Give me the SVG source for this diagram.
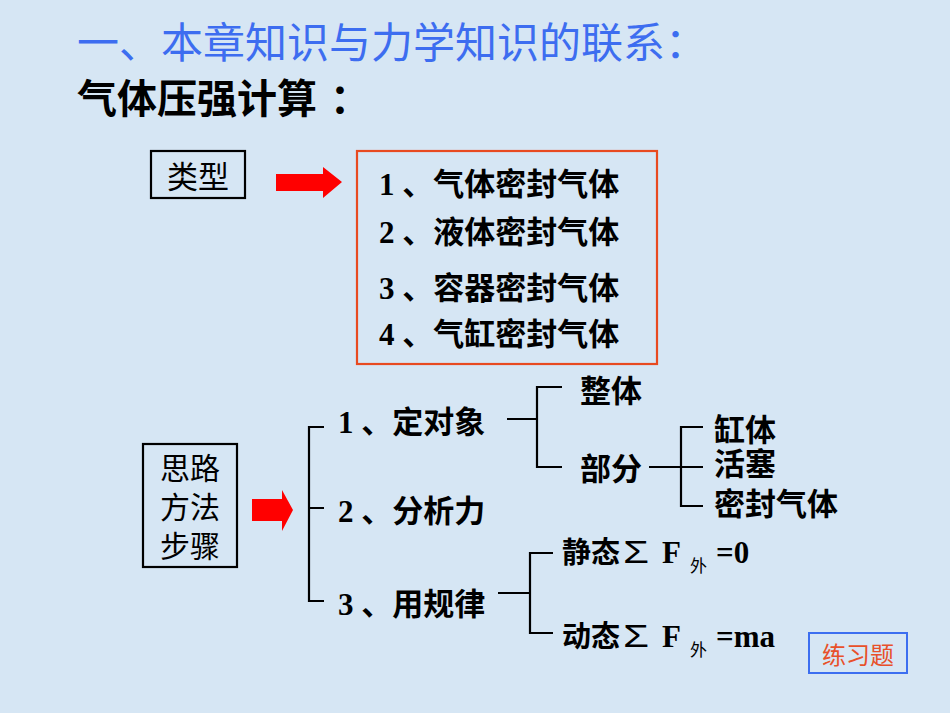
<svg xmlns="http://www.w3.org/2000/svg" width="950" height="713" viewBox="0 0 950 713">
<style>
.t{font-family:"Liberation Serif","Noto Sans CJK SC",serif;font-weight:bold;font-size:31px;fill:#000}
.c{font-family:"Noto Sans CJK SC",sans-serif;fill:#000}
.m{font-family:"Liberation Sans","Noto Sans CJK SC",sans-serif;font-size:30px;fill:#000}
.sg{font-family:"Liberation Sans",sans-serif;font-size:31px;fill:#000}
.sub{font-family:"Noto Sans CJK SC",sans-serif;font-size:17px;fill:#000}
.ln{stroke:#000;stroke-width:2.2;fill:none}
.box{fill:none;stroke:#000;stroke-width:2.2}
.arr{fill:#ff0000}
</style>
<rect x="0" y="0" width="950" height="713" fill="#d6e6f4"/>
<g id="title">
<text x="77" y="58" font-family="'Noto Sans CJK SC',sans-serif" font-size="42" fill="#3d6df0">一、本章知识与力学知识的联系：</text>
</g>
<g id="subtitle">
<text x="77" y="113" class="c" font-size="40" font-weight="bold">气体压强计算</text>
<text x="330" y="113" class="c" font-size="40" font-weight="bold">：</text>
</g>
<g id="type">
<rect x="151" y="151" width="94" height="47" class="box"/>
<text x="198" y="188" class="c" font-size="31" text-anchor="middle">类型</text>
</g>
<g id="arrow1">
<polygon class="arr" points="276,174 323,174 323,167 342,182 323,198 323,191 276,191"/>
</g>
<g id="types">
<rect x="357" y="151" width="300" height="213" fill="none" stroke="#e84a20" stroke-width="2.2"/>
<text x="379" y="195" class="t">1 、气体密封气体</text>
<text x="379" y="243" class="t">2 、液体密封气体</text>
<text x="379" y="299" class="t">3 、容器密封气体</text>
<text x="379" y="345" class="t">4 、气缸密封气体</text>
</g>
<g id="method">
<rect x="143" y="444" width="94" height="123" class="box"/>
<text x="190" y="479" class="m" text-anchor="middle">思路</text>
<text x="190" y="518" class="m" text-anchor="middle">方法</text>
<text x="190" y="557" class="m" text-anchor="middle">步骤</text>
</g>
<g id="arrow2">
<polygon class="arr" points="252,499 282,499 282,490 293,510 282,531 282,521 252,521"/>
</g>
<g id="connectors">
<path class="ln" d="M324,427 H309 V601 H324 M309,508 H324"/>
<path class="ln" d="M507,419 H537 M562,387 H537 V467 H562"/>
<path class="ln" d="M649,467 H703 M703,427 H681 V506 H703"/>
<path class="ln" d="M498,593 H530 M553,553 H530 V633 H553"/>
</g>
<g id="step1"><text x="338" y="433" class="t">1 、定对象</text></g>
<g id="step2"><text x="338" y="522" class="t">2 、分析力</text></g>
<g id="step3"><text x="338" y="615" class="t">3 、用规律</text></g>
<g id="whole"><text x="580" y="402" class="t">整体</text></g>
<g id="part"><text x="580" y="480" class="t">部分</text></g>
<g id="cyl"><text x="714" y="441" class="t">缸体</text></g>
<g id="piston"><text x="714" y="475" class="t">活塞</text></g>
<g id="gas"><text x="714" y="515" class="t">密封气体</text></g>
<g id="static">
<text x="562" y="563" class="t" style="font-size:29px">静态</text>
<text x="623" y="563" class="sg" textLength="26" lengthAdjust="spacingAndGlyphs">Σ</text>
<text x="662" y="563" class="t">F</text>
<text x="690" y="572" class="sub">外</text>
<text x="716" y="563" class="t">=0</text>
</g>
<g id="dynamic">
<text x="562" y="647" class="t" style="font-size:29px">动态</text>
<text x="623" y="647" class="sg" textLength="26" lengthAdjust="spacingAndGlyphs">Σ</text>
<text x="662" y="647" class="t">F</text>
<text x="690" y="656" class="sub">外</text>
<text x="716" y="647" class="t">=ma</text>
</g>
<g id="exercise">
<rect x="809" y="633" width="98" height="40" fill="none" stroke="#3c6ef0" stroke-width="2"/>
<text x="858" y="664" font-family="'Noto Sans CJK SC',sans-serif" font-size="24" fill="#e8502a" text-anchor="middle">练习题</text>
</g>
</svg>
